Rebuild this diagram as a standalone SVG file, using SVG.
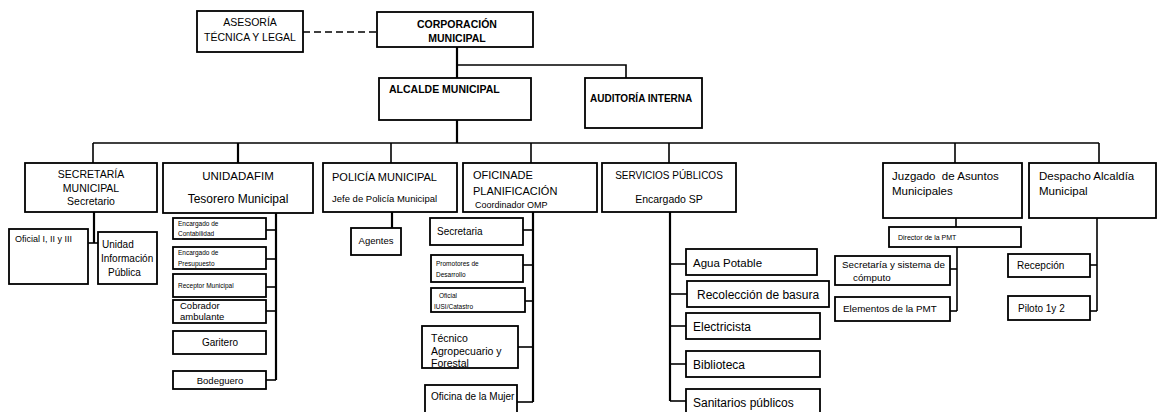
<svg xmlns="http://www.w3.org/2000/svg" width="1158" height="412" viewBox="0 0 1158 412">
<style>
.b{fill:#fff;stroke:#000;stroke-width:1.8}
.t{font-family:"Liberation Sans",Arial,sans-serif;fill:#000}
.bd{font-weight:bold}
.c{stroke:#000;stroke-width:1.6;fill:none}
.k{stroke:#000;stroke-width:2.2;fill:none}
.m{text-anchor:middle}
</style>
<rect width="1158" height="412" fill="#fff"/>
<g id="connectors">
<line class="c" x1="303" y1="32" x2="377" y2="32" stroke-dasharray="7,4"/>
<line class="k" x1="457" y1="47" x2="457" y2="78"/>
<polyline class="c" points="457,65 626,65 626,78"/>
<line class="k" x1="457" y1="120" x2="457" y2="143"/>
<line class="c" x1="93" y1="143" x2="1099" y2="143"/>
<line class="c" x1="93" y1="143" x2="93" y2="163"/>
<line class="k" x1="238" y1="143" x2="238" y2="163"/>
<line class="c" x1="391" y1="143" x2="391" y2="163"/>
<line class="c" x1="531" y1="143" x2="531" y2="163"/>
<line class="c" x1="669" y1="143" x2="669" y2="163"/>
<line class="c" x1="955" y1="143" x2="955" y2="163"/>
<line class="c" x1="1099" y1="143" x2="1099" y2="163"/>
<polyline class="k" points="94,212 94,243"/>
<line class="c" x1="88" y1="243" x2="98" y2="243"/>
<line class="k" x1="276" y1="213" x2="276" y2="380"/>
<line class="c" x1="266" y1="230" x2="276" y2="230"/>
<line class="c" x1="266" y1="259" x2="276" y2="259"/>
<line class="c" x1="266" y1="287" x2="276" y2="287"/>
<line class="c" x1="266" y1="311" x2="276" y2="311"/>
<line class="c" x1="266" y1="380" x2="276" y2="380"/>
<line class="k" x1="392" y1="212" x2="392" y2="228"/>
<line class="k" x1="533" y1="212" x2="533" y2="402"/>
<line class="c" x1="523" y1="230" x2="533" y2="230"/>
<line class="c" x1="523" y1="265" x2="533" y2="265"/>
<line class="c" x1="525" y1="301" x2="533" y2="301"/>
<line class="c" x1="518" y1="347" x2="533" y2="347"/>
<line class="c" x1="517" y1="402" x2="533" y2="402"/>
<line class="k" x1="670" y1="212" x2="670" y2="401"/>
<line class="c" x1="670" y1="264" x2="686" y2="264"/>
<line class="c" x1="670" y1="294" x2="687" y2="294"/>
<line class="c" x1="670" y1="326" x2="686" y2="326"/>
<line class="c" x1="670" y1="364" x2="686" y2="364"/>
<line class="c" x1="670" y1="401" x2="686" y2="401"/>
<line class="c" x1="956" y1="218" x2="956" y2="227"/>
<line class="c" x1="957" y1="247" x2="957" y2="311"/>
<line class="c" x1="950" y1="269" x2="957" y2="269"/>
<line class="c" x1="950" y1="311" x2="957" y2="311"/>
<line class="c" x1="1097" y1="218" x2="1097" y2="311"/>
<line class="c" x1="1090" y1="265" x2="1097" y2="265"/>
<line class="c" x1="1090" y1="311" x2="1097" y2="311"/>
</g>
<g id="asesoria"><rect class="b" x="197" y="11" width="106" height="41"/>
<text class="t m" x="250" y="26" font-size="10.5">ASESORÍA</text>
<text class="t m" x="250" y="41" font-size="10.5">TÉCNICA Y LEGAL</text></g>
<g id="corporacion"><rect class="b" x="377" y="12" width="156" height="35"/>
<text class="t bd m" x="457" y="28" font-size="10.5">CORPORACIÓN</text>
<text class="t bd m" x="457" y="42" font-size="10.5">MUNICIPAL</text></g>
<g id="alcalde"><rect class="b" x="379" y="78" width="152" height="42"/>
<text class="t bd" x="389" y="93" font-size="10.5">ALCALDE MUNICIPAL</text></g>
<g id="auditoria"><rect class="b" x="585" y="78" width="117" height="50"/>
<text class="t bd" x="590" y="102" font-size="10">AUDITORÍA INTERNA</text></g>
<g id="secretaria"><rect class="b" x="25" y="163" width="132" height="49"/>
<text class="t m" x="91" y="178" font-size="10.5">SECRETARÍA</text>
<text class="t m" x="91" y="192" font-size="10.5">MUNICIPAL</text>
<text class="t m" x="91" y="205" font-size="10.5">Secretario</text></g>
<g id="oficial"><rect class="b" x="9" y="229" width="79" height="55"/>
<text class="t" x="15" y="242" font-size="9">Oficial I, II y III</text></g>
<g id="unidad-info"><rect class="b" x="98" y="232" width="59" height="52"/>
<text class="t" x="102" y="248" font-size="10">Unidad</text>
<text class="t" x="101" y="262" font-size="10">Información</text>
<text class="t" x="108" y="276" font-size="10">Pública</text></g>
<g id="unidadafim"><rect class="b" x="163" y="163" width="150" height="50"/>
<text class="t m" x="238" y="180" font-size="11.5">UNIDADAFIM</text>
<text class="t m" x="238" y="203" font-size="12">Tesorero Municipal</text></g>
<g id="contabilidad"><rect class="b" x="173" y="218" width="93" height="21"/>
<text class="t" x="178" y="226" font-size="6.5">Encargado de</text>
<text class="t" x="178" y="236" font-size="6.5">Contabilidad</text></g>
<g id="presupuesto"><rect class="b" x="173" y="247" width="93" height="22"/>
<text class="t" x="178" y="255" font-size="6.5">Encargado de</text>
<text class="t" x="178" y="266" font-size="6.5">Presupuesto</text></g>
<g id="receptor"><rect class="b" x="173" y="274" width="93" height="23"/>
<text class="t" x="178" y="288" font-size="6.5">Receptor Municipal</text></g>
<g id="cobrador"><rect class="b" x="173" y="300" width="93" height="23"/>
<text class="t" x="180" y="309" font-size="9.5">Cobrador</text>
<text class="t" x="180" y="320" font-size="9.5">ambulante</text></g>
<g id="garitero"><rect class="b" x="173" y="331" width="93" height="23"/>
<text class="t m" x="220" y="346" font-size="10">Garitero</text></g>
<g id="bodeguero"><rect class="b" x="173" y="371" width="93" height="18"/>
<text class="t m" x="220" y="384" font-size="9.5">Bodeguero</text></g>
<g id="policia"><rect class="b" x="323" y="163" width="134" height="49"/>
<text class="t" x="332" y="181" font-size="11">POLICÍA MUNICIPAL</text>
<text class="t" x="332" y="202" font-size="9.5">Jefe de Policía Municipal</text></g>
<g id="agentes"><rect class="b" x="351" y="228" width="50" height="27"/>
<text class="t m" x="376" y="244" font-size="9.5">Agentes</text></g>
<g id="oficinade"><rect class="b" x="463" y="163" width="134" height="49"/>
<text class="t" x="473" y="179" font-size="11">OFICINADE</text>
<text class="t" x="473" y="195" font-size="11">PLANIFICACIÓN</text>
<text class="t" x="475" y="208" font-size="9">Coordinador OMP</text></g>
<g id="secretaria-omp"><rect class="b" x="430" y="218" width="93" height="27"/>
<text class="t" x="437" y="235" font-size="10">Secretaria</text></g>
<g id="promotores"><rect class="b" x="431" y="255" width="92" height="27"/>
<text class="t" x="436" y="266" font-size="6.5">Promotores de</text>
<text class="t" x="436" y="277" font-size="6.5">Desarrollo</text></g>
<g id="iusi"><rect class="b" x="431" y="288" width="94" height="24"/>
<text class="t" x="439" y="298" font-size="6.5">Oficial</text>
<text class="t" x="434" y="309" font-size="6.5">IUSI/Catastro</text></g>
<g id="tecnico"><rect class="b" x="422" y="326" width="96" height="42"/>
<text class="t" x="431" y="342" font-size="10.5">Técnico</text>
<text class="t" x="431" y="355" font-size="10.5">Agropecuario y</text>
<text class="t" x="431" y="367" font-size="10.5">Forestal</text></g>
<g id="mujer"><rect class="b" x="425" y="385" width="92" height="32"/>
<text class="t" x="431" y="400" font-size="10">Oficina de la Mujer</text></g>
<g id="servicios"><rect class="b" x="602" y="163" width="134" height="49"/>
<text class="t m" x="669" y="179" font-size="10">SERVICIOS PÚBLICOS</text>
<text class="t m" x="669" y="203" font-size="10.5">Encargado SP</text></g>
<g id="agua"><rect class="b" x="686" y="249" width="131" height="26"/>
<text class="t" x="693" y="267" font-size="11.5">Agua Potable</text></g>
<g id="recoleccion"><rect class="b" x="687" y="281" width="142" height="26"/>
<text class="t" x="697" y="299" font-size="12">Recolección de basura</text></g>
<g id="electricista"><rect class="b" x="686" y="313" width="134" height="26"/>
<text class="t" x="693" y="331" font-size="12">Electricista</text></g>
<g id="biblioteca"><rect class="b" x="686" y="351" width="134" height="26"/>
<text class="t" x="693" y="369" font-size="12">Biblioteca</text></g>
<g id="sanitarios"><rect class="b" x="686" y="389" width="134" height="30"/>
<text class="t" x="693" y="407" font-size="12">Sanitarios públicos</text></g>
<g id="juzgado"><rect class="b" x="883" y="163" width="139" height="55"/>
<text class="t" x="892" y="180" font-size="11.5" xml:space="preserve">Juzgado  de Asuntos</text>
<text class="t" x="892" y="195" font-size="11.5">Municipales</text></g>
<g id="director"><rect class="b" x="889" y="227" width="132" height="20"/>
<text class="t" x="898" y="240" font-size="7">Director de la PMT</text></g>
<g id="secretaria-pmt"><rect class="b" x="835" y="256" width="115" height="29"/>
<text class="t" x="842" y="268" font-size="9.8">Secretaría y sistema de</text>
<text class="t" x="853" y="281" font-size="9.8">cómputo</text></g>
<g id="elementos"><rect class="b" x="835" y="297" width="115" height="24"/>
<text class="t" x="843" y="312" font-size="9.8">Elementos de la PMT</text></g>
<g id="despacho"><rect class="b" x="1029" y="163" width="127" height="55"/>
<text class="t" x="1039" y="180" font-size="11.5">Despacho Alcaldía</text>
<text class="t" x="1039" y="195" font-size="11.5">Municipal</text></g>
<g id="recepcion"><rect class="b" x="1008" y="254" width="82" height="23"/>
<text class="t" x="1017" y="269" font-size="10">Recepción</text></g>
<g id="piloto"><rect class="b" x="1008" y="296" width="82" height="24"/>
<text class="t" x="1018" y="312" font-size="10">Piloto 1y 2</text></g>
</svg>
